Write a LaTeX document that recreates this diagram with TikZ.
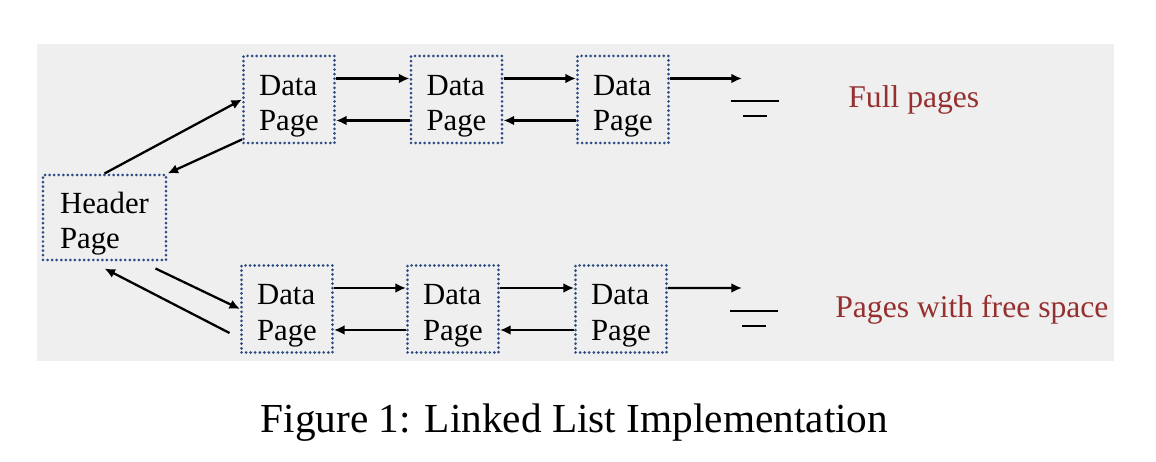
\documentclass[tikz,border=0pt]{standalone}
\usepackage{fontspec}
\setmainfont{Liberation Serif}
\usetikzlibrary{arrows.meta}

\definecolor{dotblue}{RGB}{45,76,132}
\definecolor{labelred}{RGB}{150,48,48}
\definecolor{panel}{RGB}{239,239,239}

% two lines of a page box, set a little low as in the figure
\newcommand\boxlines[2]{\raisebox{-3.7pt}[\height][\depth]{%
  \begin{tabular}{@{}l@{}}#1\\#2\end{tabular}}}

\begin{document}
\begin{tikzpicture}[
    page/.style={draw=dotblue, line width=1.7pt, line cap=round,
      dash pattern=on 0pt off 2.6pt, minimum width=1.82cm,
      minimum height=1.74cm, inner sep=0pt,
      font=\fontsize{17.5}{20}\selectfont},
    link/.style={-{Latex[length=6pt,width=5.5pt]}, line width=1.3pt},
    ground/.style={line width=1.6pt},
    listname/.style={text=labelred, inner sep=0pt, anchor=west,
      font=\fontsize{18}{22}\selectfont}]

      \useasboundingbox (0,0) rectangle (23.12,9.24);
      \fill[panel] (0.74,2.02) rectangle (22.28,8.36);

      \begin{scope}[every node/.style={page}]
        \node (h)  at (2.09,4.89) [minimum width=2.46cm, minimum height=1.7cm] {\boxlines{Header}{Page}};
        \node (f1) at (5.78,7.25)  {\boxlines{Data}{Page}};
        \node (f2) at (9.13,7.25)  {\boxlines{Data}{Page}};
        \node (f3) at (12.46,7.25) {\boxlines{Data}{Page}};
        \node (s1) at (5.74,3.06)  {\boxlines{Data}{Page}};
        \node (s2) at (9.06,3.06)  {\boxlines{Data}{Page}};
        \node (s3) at (12.42,3.06) {\boxlines{Data}{Page}};
      \end{scope}

      % list ends
      \coordinate (fend) at (14.84,7.67);
      \coordinate (send) at (14.84,3.48);
      \coordinate (fnil) at (15.1,7.22);
      \coordinate (snil) at (15.08,3.02);

      \begin{scope}[every edge/.style={draw,link}]
        \path (h.north) edge (f1.west);
        \path ([yshift=0.1cm]f1.south west) edge (h.north east);
        \path ([xshift=-0.24cm,yshift=-0.14cm]h.south east) edge (s1.west);
        \path ([xshift=-0.21cm,yshift=-0.48cm]s1.west) edge ([yshift=-0.14cm]h.south);

        \path ([yshift=0.42cm]f1.east) edge ([yshift=0.42cm]f2.west);
        \path ([yshift=0.42cm]f2.east) edge ([yshift=0.42cm]f3.west);
        \path ([yshift=0.42cm]f3.east) edge (fend);
        \path ([yshift=-0.42cm]f2.west) edge ([yshift=-0.42cm]f1.east);
        \path ([yshift=-0.42cm]f3.west) edge ([yshift=-0.42cm]f2.east);

        \path ([yshift=0.42cm]s1.east) edge ([yshift=0.42cm]s2.west);
        \path ([yshift=0.42cm]s2.east) edge ([yshift=0.42cm]s3.west);
        \path ([yshift=0.42cm]s3.east) edge (send);
        \path ([yshift=-0.42cm]s2.west) edge ([yshift=-0.42cm]s1.east);
        \path ([yshift=-0.42cm]s3.west) edge ([yshift=-0.42cm]s2.east);
      \end{scope}

      % null markers
      \draw[ground] ([xshift=-0.48cm]fnil) -- ([xshift=0.48cm]fnil);
      \draw[ground] ([xshift=-0.24cm,yshift=-0.3cm]fnil) -- ([xshift=0.24cm,yshift=-0.3cm]fnil);
      \draw[ground] ([xshift=-0.48cm]snil) -- ([xshift=0.48cm]snil);
      \draw[ground] ([xshift=-0.24cm,yshift=-0.3cm]snil) -- ([xshift=0.24cm,yshift=-0.3cm]snil);

      \node[listname] (full) at (16.96,7.24) {Full pages};
      \node[listname] (free) at (16.7,3.04)  {Pages with free space};

      \node (cap) [anchor=base, font=\fontsize{23.5}{28}\selectfont] at (11.49,0.58)
        {Figure 1: Linked List Implementation};

    \end{tikzpicture}
\end{document}
